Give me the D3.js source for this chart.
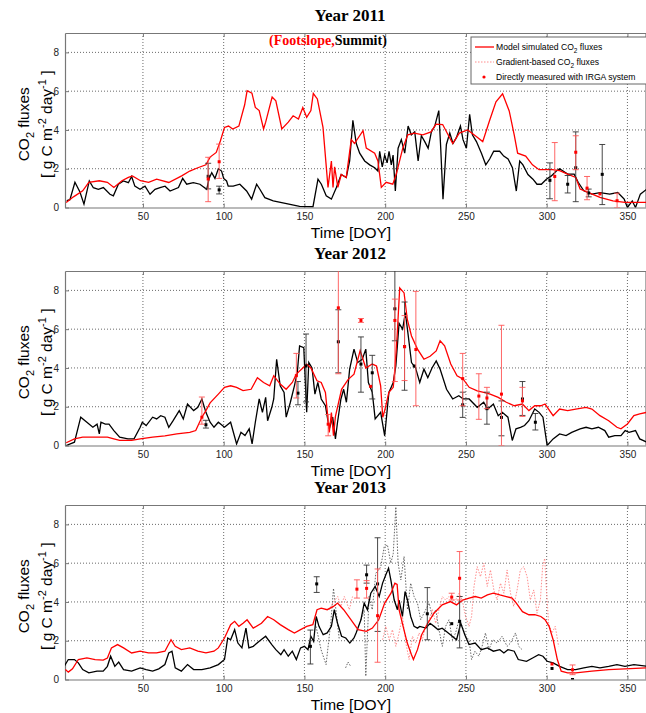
<!DOCTYPE html>
<html>
<head>
<meta charset="utf-8">
<script src="https://cdn.jsdelivr.net/npm/d3@7"></script>
<style>
  body { margin: 0; background: #fff; }
  svg { display: block; }
  .tick-label { font-family: Arial, "Liberation Sans", sans-serif; font-size: 10px; fill: #222; }
  .axis-title { font-family: Arial, "Liberation Sans", sans-serif; font-size: 15.5px; fill: #000; }
  .panel-title { font-family: "Liberation Serif", "Times New Roman", serif; font-size: 17px; font-weight: bold; fill: #000; }
  .legend-text { font-family: Arial, "Liberation Sans", sans-serif; font-size: 8.6px; fill: #000; }
</style>
</head>
<body>
<svg id="chart" width="646" height="713"></svg>
<script>
// tick labels
var xTicks = [50, 100, 150, 200, 250, 300, 350];
var yTicks = [0, 2, 4, 6, 8];
var panelTitles = ['Year 2011', 'Year 2012', 'Year 2013'];

// model simulated fluxes, [DOY, g C m-2 day-1], footslope (red) and summit (black)
var foot2011 = [[2.5,0.26],[7,0.55],[12.7,0.86],[16.5,1.3],[23,1.38],[28,1.3],[32,1.03],[37,1.38],[41,1.55],[43.5,1.63],[48.5,1.38],[53.5,1.3],[58.5,1.46],[66,1.29],[74,1.63],[79,1.88],[84,2.05],[89,2.2],[91.6,2.6],[95.4,2.84],[98,3.44],[100.5,4.13],[103,4.2],[105.6,4.05],[109.4,4.2],[113,5.3],[114.5,6.02],[117.5,5.9],[119.6,5.16],[122,5.0],[124.7,4.05],[126,4.4],[130,5.7],[132.3,5.5],[136,4.05],[140,4.4],[143,4.73],[146.3,4.56],[149,5.16],[151.4,4.65],[154,5.0],[155.5,5.88],[158,5.6],[161.5,4.13],[164.6,1.04],[166.7,2.4],[167.7,1.04],[168.7,2.1],[170.7,1.04],[172.8,1.7],[175.9,1.55],[179,3.5],[181,3.3],[186.3,3.96],[188.3,3.06],[193.5,2.8],[195.5,2.4],[197.6,1.04],[200.6,1.3],[204.7,1.2],[206.8,1.7],[210.9,3.06],[214,3.75],[218.1,3.84],[223.3,3.75],[228.4,3.9],[231.5,4.3],[235.6,4.28],[241.8,3.3],[245.9,3.84],[251.1,4.0],[256.2,3.67],[260.4,3.4],[264.5,4.45],[268.6,5.45],[272.7,5.86],[276.8,4.98],[279.9,3.75],[282,2.8],[287,2.65],[291.2,2.2],[295.3,1.95],[299.4,1.95],[303.5,1.95],[308,1.9],[313,1.72],[318,1.55],[320.7,0.95],[326,0.77],[333,0.52],[341,0.34],[348.5,0.26],[362,0.26]];
var summit2011 = [[2.8,0.36],[4.8,0.4],[7.9,1.3],[11,0.8],[13.5,0.17],[16.8,1.37],[19.3,1.02],[22.4,0.94],[25.5,1.03],[29.6,0.68],[31.7,0.6],[34.8,1.2],[37.9,1.37],[41,1.28],[43,1.6],[45,1.1],[48.2,0.94],[51.3,1.1],[54.4,0.68],[57.5,0.94],[60.6,1.03],[63.7,1.1],[66.8,0.85],[72,1.03],[74.6,1.5],[77.1,1.2],[81.2,1.28],[85.3,1.2],[89.5,0.94],[91,1.5],[92.6,1.8],[94.6,1.5],[96.7,2.0],[98.7,1.88],[100,1.5],[101.8,1.37],[102.8,1.1],[105.9,1.1],[110,1.2],[114.2,0.85],[117.3,0.43],[120.4,1.2],[122.4,0.94],[125.5,0.51],[130.7,0.34],[138.9,0.2],[147,0.06],[155.3,0.04],[158.4,1.46],[160.5,1.2],[163.5,0.6],[166.7,0.43],[169.8,1.03],[172.8,1.7],[175.9,1.55],[178,2.4],[180,4.5],[182.1,3.3],[184.2,2.8],[187.3,2.4],[190.4,2.2],[193.5,2.05],[195.5,1.88],[196.6,2.9],[198.2,2.1],[199.7,2.7],[201.2,2.3],[202.4,2.9],[203.8,2.2],[204.9,2.7],[206.3,0.85],[208,3.06],[210,3.5],[212.1,2.8],[214.2,4.2],[216.2,3.75],[218.3,3.9],[220.4,2.4],[222.4,3.7],[224.5,3.4],[226.6,3.06],[228.6,3.9],[230.7,4.2],[233.2,5.0],[234.4,3.06],[235.8,0.43],[237.9,3.25],[240,3.84],[242,3.3],[244.1,3.6],[246.6,4.2],[248.2,3.5],[250.3,3.06],[252.3,4.8],[254,3.75],[256.5,3.4],[259.6,2.8],[262.3,2.2],[264.7,2.5],[267.2,2.9],[270.9,2.9],[273.4,2.65],[276.1,2.5],[278.8,2.05],[281.2,0.85],[283.3,2.4],[285.3,2.2],[288.4,1.7],[291.5,1.46],[294,1.2],[296.7,1.2],[299.8,1.46],[302.9,1.63],[306,1.88],[308,2.0],[313,1.72],[317,1.72],[319.5,1.3],[323,0.86],[328,0.69],[333,0.77],[339,0.69],[344,0.77],[348,0.43],[350,0.0],[353,0.34],[355,0.0],[358,0.69],[362,0.95]];

var foot2012 = [[2.5,0.14],[7.6,0.34],[12.7,0.43],[20.4,0.43],[28,0.43],[32,0.34],[35.6,0.26],[43,0.26],[48.3,0.34],[56,0.43],[63.6,0.5],[71,0.6],[79,0.68],[82.7,0.77],[86.5,1.46],[89,1.8],[91.6,2.2],[96.7,2.65],[100.5,3.0],[104.3,3.08],[108,3.0],[112,2.83],[117,2.9],[120.9,3.5],[124.7,3.25],[128.5,3.08],[131,3.6],[135,3.17],[138.7,2.9],[142.5,3.25],[145,3.68],[149,4.0],[151.4,4.2],[154,4.0],[157.8,3.34],[160.4,3.25],[163,2.74],[165.4,0.68],[166.7,1.7],[168,0.51],[169.2,1.5],[173,2.9],[177,3.4],[180.7,3.68],[184.5,4.9],[188,4.0],[192,4.2],[194.6,4.1],[197.2,3.08],[198.5,1.46],[199.7,1.8],[202.3,2.74],[205,3.0],[206,3.94],[207.4,5.65],[209,8.13],[211.7,7.87],[213.7,6.5],[216.3,5.65],[220,4.97],[224,4.45],[227.8,4.6],[231.6,4.88],[234,5.4],[236.8,5.14],[240.6,4.2],[244.5,3.6],[248.3,3.42],[252,3.0],[257,2.82],[261,2.74],[265,2.65],[270,2.48],[275,2.23],[280,2.05],[285,2.14],[289,1.8],[292.6,2.05],[296.4,2.05],[299,2.14],[304,1.54],[308,1.88],[313,1.8],[318,1.88],[324.4,1.97],[328,1.88],[333,1.54],[338.4,1.28],[343.5,0.94],[346,0.86],[350,1.11],[354,1.54],[357.6,1.63],[362,1.71]];
var summit2012 = [[2.5,0],[7.6,0.17],[11.5,1.46],[15.3,1.2],[19,0.94],[21.6,1.1],[23,0.6],[24,1.2],[26.7,1.1],[29,1.1],[32,0.77],[35.6,0.43],[40.7,0.34],[44.5,0.34],[48.3,0.94],[49.6,1.2],[52,1.03],[56,1.46],[58.5,1.37],[61,1.54],[63.6,1.46],[66,0.94],[68.7,1.28],[72.5,1.8],[75,1.37],[77.6,2.14],[81.4,1.8],[84,1.97],[86.5,2.4],[89,1.71],[91.6,1.2],[94,0.94],[96.7,1.2],[100.5,0.94],[104.3,1.2],[108,0.08],[110.7,0.68],[113.2,0.51],[115.8,0.86],[117.6,0.08],[119.6,1.2],[122,2.4],[124,1.71],[126,2.48],[127.2,1.28],[129.8,1.97],[131,2.4],[132.8,4.45],[135,3.08],[137.4,2.74],[138.7,1.46],[141.3,2.23],[143.8,3.08],[145.6,3.77],[147,5.14],[149.6,5.05],[151.4,1.71],[152.7,4.28],[154.7,4.0],[156.5,2.65],[158.3,3.25],[160.4,2.4],[163,2.05],[165.4,0.86],[167.5,1.46],[169.2,0.34],[170.5,1.2],[172.6,2.4],[174.3,2.9],[176,2.23],[178,3.94],[180.7,4.97],[183,4.28],[185.8,4.45],[188,4.97],[189.6,3.25],[192,2.74],[193.8,1.37],[197.2,1.71],[199.7,0.5],[202.3,2.74],[205,3.25],[206.6,4.1],[208.6,6.3],[210.8,6.0],[212.5,6.85],[214.3,5.65],[216.3,4.28],[218.8,4.0],[221.4,3.25],[224,3.94],[226.4,3.5],[229,4.0],[231.6,4.36],[234,3.94],[238,2.9],[241.8,2.4],[245.6,2.57],[248.3,2.4],[252,2.4],[257,1.97],[261,2.23],[263.5,1.88],[267,2.14],[270,1.54],[272.5,1.71],[276,1.46],[278.7,0.26],[281,0.86],[283.8,0.94],[286.3,1.03],[289,1.28],[292.6,1.88],[295.3,1.71],[297.7,1.46],[300.3,0],[304,0.34],[308,0.6],[312,0.51],[315.5,0.68],[320.7,0.86],[324.4,0.94],[328,0.86],[332,0.94],[336,0.77],[338.4,0.43],[342.2,0.51],[346,0.51],[348.6,0.77],[351,0.68],[355,0.77],[357.6,0.34],[362,0.17]];

var foot2013 = [[2,0.51],[3.8,0.38],[6.4,0.55],[10,1.03],[15.3,1.11],[20.4,1.03],[25.4,1.0],[28,1.11],[30.5,1.63],[34.3,1.8],[38,1.63],[43,1.37],[48.3,1.46],[53.4,1.37],[58.5,1.37],[63.6,1.46],[67.4,2.05],[70,1.71],[73.8,1.54],[79,1.63],[84,1.46],[89,1.37],[94,1.46],[96.7,1.63],[100.5,2.14],[104.3,2.83],[106.8,3.0],[109.4,2.74],[112,2.9],[114.5,3.08],[118.3,2.65],[123.4,2.9],[127.2,3.25],[131,3.08],[135,2.83],[140,2.57],[143.8,2.4],[147.6,2.57],[151.4,2.74],[155.2,2.83],[157.8,3.6],[160.4,3.68],[164.1,3.6],[168,3.77],[170.5,3.94],[174.3,3.6],[178.1,3.17],[183.2,2.57],[188.3,2.48],[192.1,2.65],[196,3.08],[199.7,3.94],[203.6,4.45],[206,4.97],[207.4,4.9],[208.6,3.6],[211.1,2.74],[213.7,1.88],[216.3,1.28],[217.5,1.03],[220,1.54],[222.6,2.31],[226.4,2.9],[230.2,3.42],[235.3,3.85],[240.4,4.02],[244.2,3.85],[248,4.1],[252,4.2],[255.7,4.28],[259.5,4.2],[263.3,4.36],[267,4.45],[271,4.36],[275,4.28],[278.6,4.2],[281.2,3.94],[285,3.5],[289,3.34],[292.6,3.34],[296.4,3.25],[299,3.08],[301.5,2.74],[304,2.05],[306.6,1.03],[309,0.43],[313,0.34],[318,0.34],[328,0.43],[338.4,0.51],[348.5,0.55],[362,0.6]];
var summit2013 = [[1.3,0.68],[3.8,1.03],[7.6,1.03],[10,0.86],[12.7,0.51],[16.5,0.34],[21.6,0.43],[25.4,0.43],[28,0.68],[30,1.2],[32.6,0.68],[35,0.9],[38,0.51],[43,0.43],[48.3,0.6],[52,0.51],[56,0.43],[59.8,0.55],[63.6,0.77],[66,1.37],[68,1.46],[70,0.6],[73.8,0.43],[77.6,0.77],[81.4,0.51],[86.5,0.51],[91.6,0.6],[96.7,0.77],[100.5,1.03],[102.5,2.14],[104.3,2.05],[106.8,2.57],[108.8,1.88],[111.3,1.63],[113.8,2.65],[115.6,1.63],[118.3,1.71],[122,1.97],[126,2.23],[129.8,1.8],[132.3,1.54],[135.4,1.28],[137.4,1.54],[140,1.2],[142.5,1.46],[145,1.03],[147.6,1.63],[150,1.71],[152.2,1.54],[154,2.23],[155.7,1.97],[157.3,3.25],[159,2.74],[161.6,2.31],[164.1,2.4],[166.7,2.74],[168.5,3.6],[170.5,2.9],[173,2.23],[175.6,2.14],[178.1,1.88],[180.7,2.14],[182,2.4],[185,3.08],[187,3.94],[189,3.6],[191.1,4.45],[193.8,4.8],[196.3,4.28],[198.4,4.97],[200.4,5.4],[202.1,5.74],[203.5,5.14],[205.6,4.1],[207.6,3.6],[208.6,4.1],[210.7,3.25],[212.3,4.54],[213.8,4.1],[215.8,3.25],[217.9,2.74],[220,2.65],[221.4,2.74],[225.2,2.65],[227.8,2.9],[230.3,2.74],[232.8,2.57],[235.3,2.65],[237.9,2.48],[240.4,2.31],[244.2,2.05],[246.8,2.9],[249.3,2.31],[251.9,1.8],[255.7,1.88],[259.5,1.54],[263.3,1.63],[267,1.46],[271,1.54],[273.5,1.37],[276,1.54],[279.9,1.46],[282.4,1.03],[287.5,0.94],[291.3,1.11],[295,1.28],[297.7,1.2],[300.3,0.94],[304,0.86],[308,0.68],[313,0.51],[318,0.51],[323,0.6],[328,0.68],[333,0.6],[338.4,0.68],[343.5,0.77],[348.5,0.68],[354,0.77],[362,0.68]];

// gradient-based fluxes (2013 only), dotted; null marks a gap
var gradFoot2013 = [[165.4,3.6],[167.5,3.94],[170.6,4.28],[172.6,3.77],[174.7,4.28],[177.8,3.6],[179.8,4.28],null,[198.4,2.05],[200.4,2.74],[202.5,2.05],[204.5,2.57],[206.6,1.71],[208.6,2.4],[210.7,3.25],[212.8,1.88],[214.8,1.03],[216.9,2.23],[219,1.88],[221,2.4],[223,2.05],[225,2.74],[227.2,3.08],[229.2,3.6],[231.3,2.9],[233.3,3.6],[235.4,4.28],[237.4,4.1],[239.5,4.28],[241.6,4.1],[243.6,4.1],[245.7,4.45],[247.7,4.1],[249.8,3.25],[251.9,2.74],[253.5,3.25],[255,4.8],[257,5.82],[259,5.3],[261.1,6.0],[263.2,4.8],[265.2,5.65],[267.3,4.62],[269.3,4.1],[271.4,4.97],[273.5,4.45],[275.5,5.65],[277.6,4.45],[279.6,3.77],[281.7,4.62],[283.7,5.65],[285.8,5.82],[287.9,5.3],[289.9,4.1],[292,4.62],[294,3.42],[296.1,4.1],[297.5,5.82],[298.8,6.25],[299.6,4.97],[301.2,2.9],[303.3,2.4],[305.3,2.74],[307.4,1.71]];
var gradSummit2013 = [[157.2,2.74],[160.3,1.54],[163.4,0.77],[166.5,3.08],[168,4.7],[169.5,3.6],[171.6,2.05],null,[175.5,0.6],[177,0.9],[178.5,0.7],null,[185,3.08],[187,3.6],[188,0.17],[190,4.28],[192,3.6],[194.2,5.48],[197.3,5.82],[199.4,6.85],[201.4,6.94],[203.5,6.0],[205,6.5],[206.6,8.9],[208,6.0],[209.7,5.14],[211.7,6.34],[213.8,3.6],[215.8,4.97],[217.9,4.28],[220,3.94],[222,3.08],[224,3.42],[227.2,3.94],[229.2,3.25],[231.3,3.6],[233.3,2.57],[235.4,1.71],[237.4,2.74],[239.5,3.08],[241.6,2.05],[243.6,2.4],[245.7,3.08],[247.7,2.74],[249.8,2.23],[251.9,2.05],[253.5,1.03],[255.6,1.46],[258,1.2],[260,1.71],[262.1,2.4],[264.2,1.54],[266.7,2.05],[269.3,1.88],[272.4,2.23],[275.5,1.71],[277.6,1.88],[280.7,2.4],[282.7,1.71],[284.8,1.54]];

// IRGA chamber measurements: [DOY, mean, low, high]
var irgaFoot2011 = [[90.4,1.47,0.3,2.59],[97.2,2.36,1.5,3.27],[305,1.6,0.35,3.35],[318,2.85,1.95,3.7],[325,1.0,0.4,1.6],[333,0.7,0.7,0.7],[343.6,0.35,0.0,0.74]];
var irgaSummit2011 = [[90.4,1.61,0.96,2.28],[97.2,0.91,0.7,1.1],[302,1.4,0.45,2.3],[313,1.2,0.75,1.65],[318,2.05,0.3,3.9],[326,0.75,0.55,0.95],[334.4,1.71,0.15,3.25]];
var irgaFoot2012 = [[86.5,1.46,1.1,2.5],[145,3.6,2.45,4.75],[164.7,1.1,0.5,1.6],[171,7.1,3.7,9.2],[185,6.45,6.35,6.55],[191,3.05,3.05,3.05],[206,6.45,3.3,7.55],[212,5.1,3.35,6.7],[219,4.95,2.05,7.95],[248,3.45,2.05,4.75],[258,2.55,1.35,3.7],[263,2.45,1.9,3.0],[272,2.65,0,6.2],[285,2.3,1.5,3.0]];
var irgaSummit2012 = [[89,1.07,0.9,1.3],[146,2.7,2.1,3.3],[151,4.1,2.25,5.75],[171,5.35,3.75,7.0],[185,4.2,2.75,5.6],[192,3.75,2.4,4.65],[206,7.05,5.4,9.2],[212,5.1,2.85,7.4],[218,4.1,4.1,4.1],[248,2.1,1.45,2.75],[263,1.9,1.1,2.75],[272,1.45,0.5,2.3],[285,2.4,1.55,3.3],[293,1.2,0.8,1.65]];
var irgaFoot2013 = [[182.5,4.66,4.2,5.14],[188.5,4.7,4.2,5.1],[195.3,3.29,0.89,5.7],[241.2,4.25,4.1,4.45],[246.1,5.22,4.1,6.6],[303.3,0.8,0.8,0.8],[316,0.5,0.25,0.75]];
var irgaSummit2013 = [[153.7,1.71,0.8,2.55],[157.6,4.93,4.49,5.3],[188.5,5.4,4.97,5.9],[195.3,4.93,2.48,7.31],[226.1,3.39,2.05,4.74],[241.2,2.88,2.88,2.88],[246.1,3.0,1.63,4.28],[303.3,0.57,0.57,0.57],[316,0.0,0.0,0.0]];

var panels = [
  { title: panelTitles[0], top: 33, foot: foot2011, summit: summit2011, irgaFoot: irgaFoot2011, irgaSummit: irgaSummit2011, legend: true },
  { title: panelTitles[1], top: 271, foot: foot2012, summit: summit2012, irgaFoot: irgaFoot2012, irgaSummit: irgaSummit2012 },
  { title: panelTitles[2], top: 505, foot: foot2013, summit: summit2013, irgaFoot: irgaFoot2013, irgaSummit: irgaSummit2013, gradFoot: gradFoot2013, gradSummit: gradSummit2013 }
];

var svg = d3.select('#chart');
var plotLeft = 65, plotRight = 646, plotHeight = 174.5;

var x = d3.scaleLinear().domain([1.75, 361.5]).range([plotLeft, plotRight]);

panels.forEach(function (p, i) {
  drawPanel(p, i);
});

function drawPanel (p, i) {
  var y = d3.scaleLinear().domain([0, 9]).range([p.top + plotHeight, p.top]);
  var g = svg.append('g');
  var bottom = p.top + plotHeight;

  g.append('clipPath').attr('id', 'clip' + i)
    .append('rect')
    .attr('x', plotLeft).attr('y', p.top)
    .attr('width', plotRight - plotLeft).attr('height', plotHeight);

  //Dotted grid.
  g.selectAll('.vgrid').data(xTicks).enter().append('line')
    .attr('x1', function (d) {return x(d);}).attr('x2', function (d) {return x(d);})
    .attr('y1', p.top).attr('y2', bottom)
    .attr('stroke', '#444').attr('stroke-width', 0.8).attr('stroke-dasharray', '1,2');
  g.selectAll('.hgrid').data(yTicks.slice(1)).enter().append('line')
    .attr('x1', plotLeft).attr('x2', plotRight)
    .attr('y1', function (d) {return y(d);}).attr('y2', function (d) {return y(d);})
    .attr('stroke', '#444').attr('stroke-width', 0.8).attr('stroke-dasharray', '1,2');

  //Axes with inward ticks, matlab style.
  var xAxis = g.append('g').attr('transform', 'translate(0,' + bottom + ')')
    .call(d3.axisBottom(x).tickValues(xTicks).tickSizeInner(-4).tickSizeOuter(0).tickPadding(5));
  var xAxisTop = g.append('g').attr('transform', 'translate(0,' + p.top + ')')
    .call(d3.axisTop(x).tickValues(xTicks).tickSizeInner(-4).tickSizeOuter(0).tickFormat(''));
  var yAxis = g.append('g').attr('transform', 'translate(' + plotLeft + ',0)')
    .call(d3.axisLeft(y).tickValues(yTicks).tickSizeInner(-4).tickSizeOuter(0).tickPadding(6));
  [xAxis, xAxisTop, yAxis].forEach(function (a) {
    a.select('.domain').attr('stroke', '#777').attr('stroke-width', 1.2);
    a.selectAll('.tick line').attr('stroke', '#777');
    a.selectAll('.tick text').attr('class', 'tick-label').attr('font-family', null).attr('font-size', null);
  });
  g.append('line').attr('x1', plotRight).attr('x2', plotRight).attr('y1', p.top).attr('y2', bottom)
    .attr('stroke', '#777').attr('stroke-width', 1.2);

  var line = d3.line()
    .defined(function (d) {return d !== null;})
    .x(function (d) {return x(d[0]);})
    .y(function (d) {return y(d[1]);});

  var plot = g.append('g').attr('clip-path', 'url(#clip' + i + ')');

  if (p.gradSummit) {
    plot.append('path').datum(p.gradSummit).attr('d', line)
      .attr('fill', 'none').attr('stroke', '#555').attr('stroke-width', 0.9).attr('stroke-dasharray', '1.5,1.5');
  }
  if (p.gradFoot) {
    plot.append('path').datum(p.gradFoot).attr('d', line)
      .attr('fill', 'none').attr('stroke', '#ff8080').attr('stroke-width', 0.9).attr('stroke-dasharray', '1.5,1.5');
  }

  plot.append('path').datum(p.summit).attr('d', line)
    .attr('fill', 'none').attr('stroke', '#000').attr('stroke-width', 1.3);
  plot.append('path').datum(p.foot).attr('d', line)
    .attr('fill', 'none').attr('stroke', '#ff0000').attr('stroke-width', 1.3);

  drawErrorBars(plot, p.irgaSummit, y, '#333', '#000');
  drawErrorBars(plot, p.irgaFoot, y, '#ff5555', '#ff0000');

  //Panel title.
  g.append('text').attr('class', 'panel-title')
    .attr('x', 350).attr('y', p.top - 12).attr('text-anchor', 'middle')
    .text(p.title);

  //Axis titles.
  g.append('text').attr('class', 'axis-title')
    .attr('x', 351).attr('y', bottom + 30).attr('text-anchor', 'middle')
    .text('Time [DOY]');

  var midY = p.top + plotHeight / 2 + 4;
  var yl1 = g.append('text').attr('class', 'axis-title')
    .attr('transform', 'translate(29,' + midY + ') rotate(-90)').attr('text-anchor', 'middle');
  yl1.append('tspan').text('CO');
  yl1.append('tspan').attr('dy', 5).attr('font-size', 11).text('2');
  yl1.append('tspan').attr('dy', -5).text(' fluxes');

  var yl2 = g.append('text').attr('class', 'axis-title')
    .attr('transform', 'translate(52,' + midY + ') rotate(-90)').attr('text-anchor', 'middle');
  yl2.append('tspan').text('[ g C m');
  yl2.append('tspan').attr('dy', -6).attr('font-size', 11).text('-2');
  yl2.append('tspan').attr('dy', 6).text(' day');
  yl2.append('tspan').attr('dy', -6).attr('font-size', 11).text('-1');
  yl2.append('tspan').attr('dy', 6).text(' ]');

  if (p.legend) {drawLegend(g, p.top);}
}

function drawErrorBars (plot, data, y, barColor, dotColor) {
  var capW = 3;
  var bars = plot.selectAll(null).data(data).enter().append('g');
  bars.filter(function (d) {return d[3] - d[2] > 0.05;}).each(function (d) {
    var sel = d3.select(this);
    var cx = x(d[0]);
    sel.append('line').attr('x1', cx).attr('x2', cx).attr('y1', y(d[2])).attr('y2', y(d[3]))
      .attr('stroke', barColor).attr('stroke-width', 0.9);
    [d[2], d[3]].forEach(function (v) {
      sel.append('line').attr('x1', cx - capW).attr('x2', cx + capW).attr('y1', y(v)).attr('y2', y(v))
        .attr('stroke', barColor).attr('stroke-width', 0.9);
    });
  });
  bars.append('rect')
    .attr('x', function (d) {return x(d[0]) - 1.5;})
    .attr('y', function (d) {return y(d[1]) - 1.5;})
    .attr('width', 3).attr('height', 3)
    .attr('fill', dotColor);
}

function drawLegend (g, top) {
  var lx = 471, ly = top + 4;
  g.append('rect').attr('x', lx).attr('y', ly).attr('width', 180).attr('height', 47)
    .attr('fill', '#fff').attr('stroke', '#666').attr('stroke-width', 1);

  var rows = [
    { y: ly + 10, label: ['Model simulated CO', '2', ' fluxes'], kind: 'line' },
    { y: ly + 25, label: ['Gradient-based CO', '2', ' fluxes'], kind: 'dotted' },
    { y: ly + 40, label: ['Directly measured with IRGA system'], kind: 'dot' }
  ];
  rows.forEach(function (r) {
    if (r.kind === 'line') {
      g.append('line').attr('x1', lx + 4).attr('x2', lx + 23).attr('y1', r.y).attr('y2', r.y)
        .attr('stroke', '#ff0000').attr('stroke-width', 1.3);
    } else if (r.kind === 'dotted') {
      g.append('line').attr('x1', lx + 4).attr('x2', lx + 23).attr('y1', r.y).attr('y2', r.y)
        .attr('stroke', '#ff8080').attr('stroke-width', 0.9).attr('stroke-dasharray', '1.5,1.5');
    } else {
      g.append('circle').attr('cx', lx + 13).attr('cy', r.y).attr('r', 1.6).attr('fill', '#ff0000');
    }
    var t = g.append('text').attr('class', 'legend-text').attr('x', lx + 25).attr('y', r.y + 3);
    t.append('tspan').text(r.label[0]);
    if (r.label.length > 1) {
      t.append('tspan').attr('dy', 3).attr('font-size', 6.5).text(r.label[1]);
      t.append('tspan').attr('dy', -3).text(r.label[2]);
    }
  });

  //Site tag above the first panel's curves.
  var tag = g.append('text').attr('x', 269).attr('y', top + 12)
    .attr('font-family', '"Liberation Serif", "Times New Roman", serif')
    .attr('font-size', 14).attr('font-weight', 'bold');
  tag.append('tspan').attr('fill', '#ff0000').text('(Footslope,');
  tag.append('tspan').attr('fill', '#000').text('Summit)');
}
</script>
</body>
</html>
